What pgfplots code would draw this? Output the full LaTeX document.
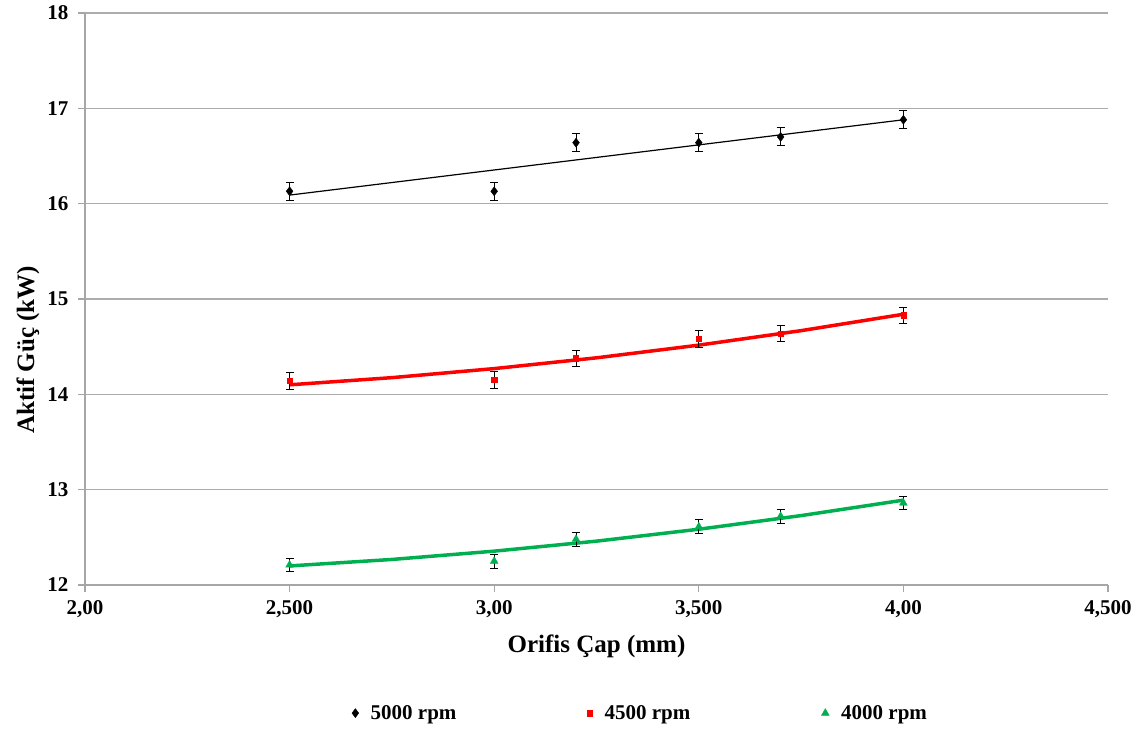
\documentclass[border=0pt]{standalone}
\usepackage{fontspec}
\setmainfont{Liberation Serif}
\usepackage{pgfplots}
\pgfplotsset{compat=1.18}
\definecolor{xlgreen}{HTML}{00B050}
\begin{document}
\begin{tikzpicture}
\path (0,0) rectangle (1148pt,731pt);
\begin{axis}[
  at={(85pt,146pt)}, anchor=south west,
  width=1023pt, height=572pt, scale only axis,
  xmin=2, xmax=4.5, ymin=12, ymax=18,
  xtick={2,2.5,3,3.5,4,4.5},
  xticklabels={{2,00},{2,500},{3,00},{3,500},{4,00},{4,500}},
  ytick={12,13,14,15,16,17,18},
  axis lines*=left,
  axis line style={gray!70, line width=1.2pt},
  ymajorgrids, grid style={gray!65, line width=1.2pt},
  tick style={gray!70, line width=1.2pt},
  tick align=outside, major tick length=7pt,
  /pgf/number format/assume math mode=true,
  ticklabel style={font=\fontsize{21}{24}\selectfont\bfseries},
  yticklabel style={xshift=-6pt},
  xticklabel style={yshift=-5pt},
  xlabel={Orifis Çap (mm)},
  ylabel={Aktif Güç (kW)},
  label style={font=\fontsize{25}{28}\selectfont\bfseries},
  xlabel style={at={(axis description cs:0.5,-0.107)}, anchor=center},
  ylabel style={at={(axis description cs:-0.0557,0.411)}, anchor=center},
  legend style={at={(axis description cs:0.543,-0.224)}, anchor=center,
    draw=none, fill=none, font=\fontsize{21}{24}\selectfont\bfseries,
    legend columns=3,
    /tikz/every odd column/.append style={column sep=10pt},
    /tikz/every even column/.append style={column sep=129pt}},
  error bars/error bar style={black, line width=1pt},
  error bars/error mark options={black, rotate=90, mark size=4pt, line width=1pt},
]
% trendlines
\addplot[black, line width=1.2pt, forget plot] coordinates {(2.5,16.09) (4.0,16.88)};
\addplot[red, line width=3.5pt, forget plot] coordinates {
 (2.5,14.10) (2.75,14.175) (3.0,14.27) (3.25,14.383) (3.5,14.516) (3.75,14.668) (4.0,14.84)};
\addplot[xlgreen, line width=3.5pt, forget plot] coordinates {
 (2.5,12.20) (2.75,12.268) (3.0,12.355) (3.25,12.46) (3.5,12.585) (3.75,12.728) (4.0,12.89)};
% data
\addplot[only marks, mark=diamond*, mark size=4.5pt, black,
  error bars/.cd, y dir=both, y explicit] table[y error=e] {
x y e
2.5 16.13 0.095
3.0 16.13 0.095
3.2 16.64 0.095
3.5 16.64 0.095
3.7 16.70 0.095
4.0 16.88 0.095
};
\addlegendentry{5000 rpm}
\addplot[only marks, mark=square*, mark size=2.6pt, red,
  error bars/.cd, y dir=both, y explicit] table[y error=e] {
x y e
2.5 14.14 0.085
3.0 14.15 0.085
3.2 14.38 0.085
3.5 14.58 0.085
3.7 14.64 0.085
4.0 14.83 0.085
};
\addlegendentry{4500 rpm}
\addplot[only marks, mark=triangle*, mark size=4.5pt, xlgreen,
  error bars/.cd, y dir=both, y explicit] table[y error=e] {
x y e
2.5 12.21 0.073
3.0 12.25 0.073
3.2 12.48 0.073
3.5 12.61 0.073
3.7 12.72 0.073
4.0 12.86 0.073
};
\addlegendentry{4000 rpm}
\end{axis}
\end{tikzpicture}
\end{document}
